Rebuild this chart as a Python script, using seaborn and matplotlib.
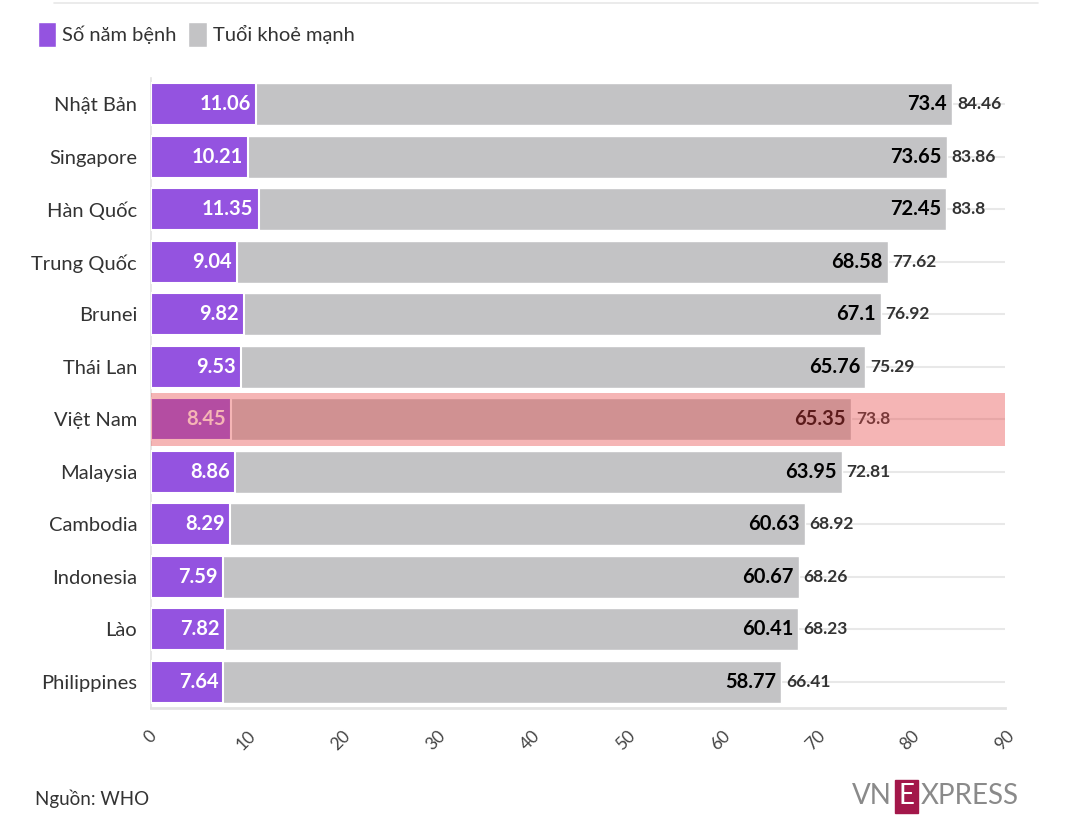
import seaborn as sns
import matplotlib.pyplot as plt
import pandas as pd
from matplotlib.patches import Patch
from matplotlib.lines import Line2D

countries = ["Nhật Bản", "Singapore", "Hàn Quốc", "Trung Quốc", "Brunei", "Thái Lan",
             "Việt Nam", "Malaysia", "Cambodia", "Indonesia", "Lào", "Philippines"]
sick_years = [11.06, 10.21, 11.35, 9.04, 9.82, 9.53, 8.45, 8.86, 8.29, 7.59, 7.82, 7.64]
healthy_years = [73.4, 73.65, 72.45, 68.58, 67.1, 65.76, 65.35, 63.95, 60.63, 60.67, 60.41, 58.77]
life_expectancy = [84.46, 83.86, 83.8, 77.62, 76.92, 75.29, 73.8, 72.81, 68.92, 68.26, 68.23, 66.41]
x_ticks = [0, 10, 20, 30, 40, 50, 60, 70, 80, 90]
highlight = "Việt Nam"

purple = "#9453E0"
grey = "#C3C3C5"

sns.set_theme(style="white")
plt.rcParams["font.family"] = ["Lato", "Noto Sans", "DejaVu Sans"]

df = pd.DataFrame({"country": countries, "sick": sick_years,
                   "healthy": healthy_years, "total": life_expectancy})

fig = plt.figure(figsize=(10.87, 8.32), dpi=100)
ax = fig.add_axes([0.1389, 0.149, 0.7857, 0.757])

# stacked look: full total in grey, then the sick years on top in purple
sns.barplot(data=df, x="total", y="country", color=grey, saturation=1, width=0.8, ax=ax, zorder=2)
sns.barplot(data=df, x="sick", y="country", color=purple, saturation=1, width=0.8, ax=ax,
            edgecolor="white", linewidth=1.5, zorder=3)

for i, row in df.iterrows():
    ax.text(row["sick"] - 0.55, i, f"{row['sick']:g}", ha="right", va="center",
            color="white", fontsize=14.5, fontweight="bold", zorder=5)
    ax.text(row["total"] - 0.55, i, f"{row['healthy']:g}", ha="right", va="center",
            color="black", fontsize=14.5, fontweight="bold", zorder=5)
    ax.text(row["total"] + 0.5, i, f"{row['total']:g}", ha="left", va="center",
            color="#333333", fontsize=12.5, fontweight="bold", zorder=5)

# highlight row
hi = countries.index(highlight)
ax.axhspan(hi - 0.5, hi + 0.5, color=(230 / 255, 70 / 255, 70 / 255), alpha=0.4, lw=0, zorder=10)

ax.set_xlim(0, 90)
ax.set_ylim(len(countries) - 0.5, -0.5)
ax.set_xticks(x_ticks)
ax.set_xticklabels([str(t) for t in x_ticks], rotation=45, ha="center", va="top",
                   color="#444444", fontsize=12.5)
ax.set_xlabel("")
ax.set_ylabel("")
ax.tick_params(axis="x", length=8, width=1.2, color="#e3e3e3", pad=6)
ax.tick_params(axis="y", length=6, width=1.2, color="#e3e3e3", labelsize=14.5, labelcolor="#333333", pad=4)
ax.grid(axis="y", color="#e8e8e8", lw=1.5, zorder=0)
ax.grid(axis="x", visible=False)
ax.set_axisbelow(True)
for s in ["top", "right"]:
    ax.spines[s].set_visible(False)
ax.spines["left"].set_color("#e3e3e3")
ax.spines["left"].set_linewidth(1.2)
ax.spines["bottom"].set_color("#e3e3e3")
ax.spines["bottom"].set_linewidth(2)

handles = [Patch(facecolor=purple, label="Số năm bệnh"),
           Patch(facecolor=grey, label="Tuổi khoẻ mạnh")]
fig.legend(handles=handles, loc="upper left", bbox_to_anchor=(0.018, 0.995), ncol=2,
           frameon=False, fontsize=14.5, handlelength=0.9, handleheight=1.5,
           handletextpad=0.3, columnspacing=0.6, labelcolor="#333333")

fig.add_artist(Line2D([0.05, 0.955], [0.996, 0.996], color="#e8e8e8", lw=1.2))

fig.text(0.032, 0.04, "Nguồn: WHO", fontsize=13.5, color="#333333", va="center")

# logo
fig.text(0.8205, 0.043, "VN", fontsize=20, color="#8a8a8a", ha="right", va="center")
fig.text(0.834, 0.043, "E", fontsize=20, color="white", ha="center", va="center",
         bbox=dict(boxstyle="square,pad=0.12", fc="#a3174a", ec="#a3174a"))
fig.text(0.847, 0.043, "XPRESS", fontsize=20, color="#8a8a8a", ha="left", va="center")

fig.savefig("out.png", dpi=100)
